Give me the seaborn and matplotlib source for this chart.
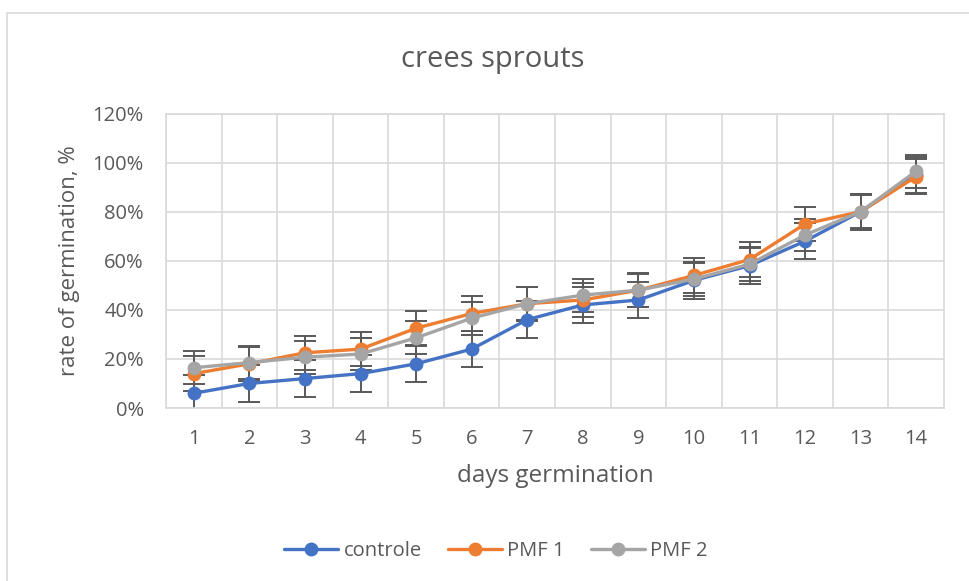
import pandas as pd
import matplotlib.pyplot as plt
import seaborn as sns
from matplotlib.patches import Rectangle
from matplotlib.ticker import PercentFormatter

days = list(range(1, 15))
controle = [6, 10, 12, 14, 18, 24, 36, 42, 44, 52, 58, 68, 80, 95]
pmf1 = [14, 18, 22.5, 24, 32.5, 38.5, 42.5, 44, 48, 54, 60.5, 75, 80, 94.3]
pmf2 = [16.4, 18.5, 20.7, 22, 28.6, 36.6, 42.5, 46, 48, 52.5, 58.6, 70.5, 80, 96.5]
err_controle = [7.4] * 14
err_pmf1 = [7.0] * 14
err_pmf2 = [6.7] * 14

series_names = ["controle", "PMF 1", "PMF 2"]
colors = ["#4472C4", "#ED7D31", "#A5A5A5"]

df = pd.DataFrame({
    "day": days * 3,
    "rate": controle + pmf1 + pmf2,
    "err": err_controle + err_pmf1 + err_pmf2,
    "series": [s for s in series_names for _ in days],
})

sns.set_style("white")
plt.rcParams["font.family"] = ["Open Sans", "DejaVu Sans"]

fig = plt.figure(figsize=(9.69, 5.81), dpi=100)
ax = fig.add_axes([166 / 969, 1 - 408 / 581, 778 / 969, 294.5 / 581])

# chart border
fig.patches.append(Rectangle((7 / 969, -0.1), 1.1, 1 - 13 / 581 + 0.1,
                             transform=fig.transFigure, fill=False,
                             edgecolor="#d9d9d9", linewidth=1.2, zorder=0))

for name, col in zip(series_names, colors):
    sub = df[df["series"] == name]
    ax.errorbar(sub["day"], sub["rate"], yerr=sub["err"], fmt="none",
                ecolor="#595959", elinewidth=1.4, capsize=8, capthick=1.4,
                zorder=2)

sns.lineplot(data=df, x="day", y="rate", hue="series", palette=colors,
             marker="o", markersize=10, markeredgewidth=0, linewidth=2.4,
             ax=ax, legend=False, zorder=3)

ax.set_xlim(0.5, 14.5)
ax.set_ylim(0, 120)
ax.set_yticks(range(0, 121, 20))
ax.yaxis.set_major_formatter(PercentFormatter(decimals=0))
ax.set_xticks(days)
ax.set_xticks([d + 0.5 for d in range(0, 14)], minor=True)
ax.grid(False)
ax.grid(True, axis="y", which="major", color="#d9d9d9", linewidth=1.2)
ax.grid(True, axis="x", which="minor", color="#d9d9d9", linewidth=1.2)
ax.set_axisbelow(True)
for side in ["top", "right", "left", "bottom"]:
    ax.spines[side].set_color("#d9d9d9")
    ax.spines[side].set_linewidth(1.2)
ax.tick_params(axis="both", which="both", length=0, labelsize=14.5,
               labelcolor="#595959")
ax.tick_params(axis="y", pad=16)
ax.tick_params(axis="x", pad=15)

ax.set_xlabel("days germination", fontsize=17.5, color="#595959", labelpad=11)
ax.set_ylabel("rate of germination, %", fontsize=16, color="#595959",
              labelpad=9)
fig.text(493 / 969, 1 - 60 / 581, "crees sprouts", ha="center", va="center",
         fontsize=21, color="#595959")

handles = [plt.Line2D([], [], color=c, marker="o", markersize=10,
                      markeredgewidth=0, linewidth=2.4) for c in colors]
fig.legend(handles, series_names, loc="center", ncol=3,
           bbox_to_anchor=(496 / 969, 1 - 551 / 581), frameon=False,
           fontsize=14.5, labelcolor="#595959", handlelength=2.7,
           columnspacing=1.3, handletextpad=0.25)

fig.savefig("out.png", dpi=100)
